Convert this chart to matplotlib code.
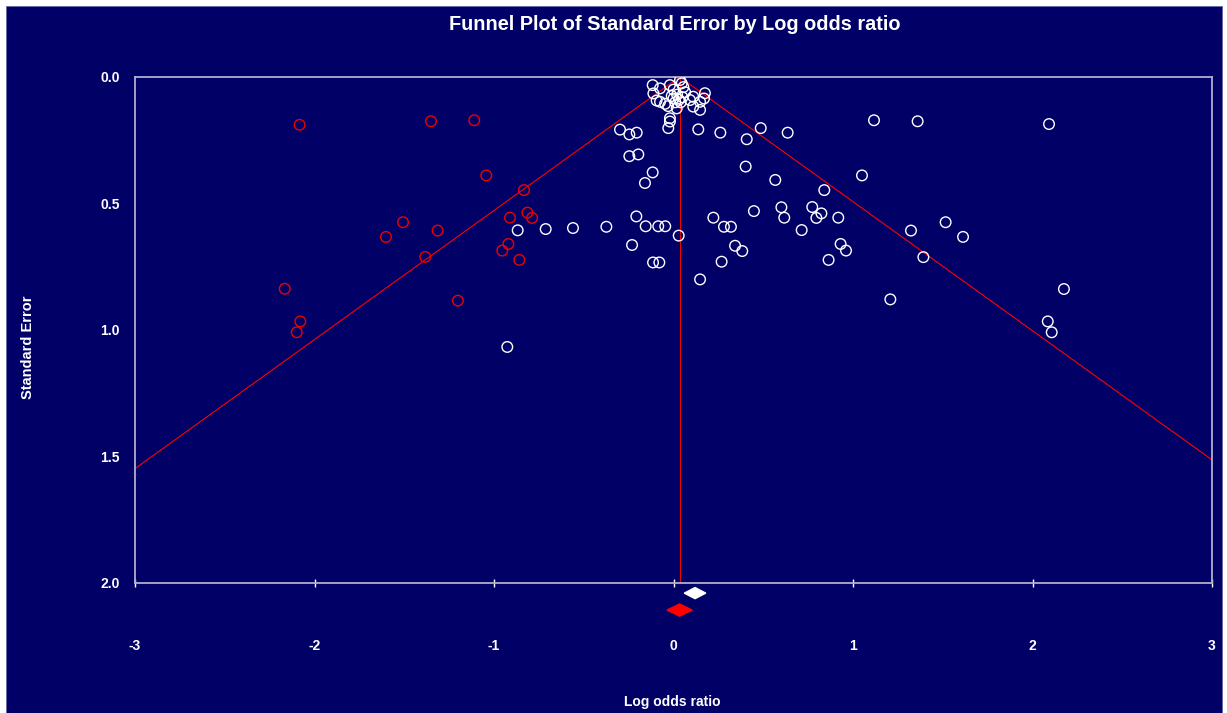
import matplotlib
matplotlib.use("Agg")
from matplotlib import pyplot as plt
from matplotlib.patches import Polygon, Rectangle
import numpy as np

plt.rcParams['font.family'] = ['Liberation Sans', 'DejaVu Sans']

# observed studies (log odds ratio, standard error)
obs_lor = [
    -0.116, -0.075, -0.112, -0.094, -0.075, -0.047, -0.02, 0.0, 0.046, 0.036,
    0.055, 0.02, 0.0, 0.03, 0.05, 0.01, 0.04, -0.01, 0.018, 0.092,
    0.11, 0.11, 0.148, 0.148, 0.175, 0.17, -0.03, 0.065,
    -0.02, -0.02, -0.029, -0.298, -0.246, -0.205, -0.246, -0.196, -0.116, -0.159,
    0.138, 0.261, 0.408, 0.486, 0.636, 1.117, 1.36, 0.402, 0.567, 0.84,
    1.05, 0.448, 0.601, 0.617, 0.773, 0.824, 0.796, 0.918, 0.714, 0.931,
    0.961, 0.864, 1.323, 1.516, 1.613, 1.392, 1.208, -0.374, -0.207, -0.155,
    -0.085, -0.046, 0.029, -0.231, -0.114, -0.079, 0.148, 0.222, 0.281, 0.32,
    0.343, 0.383, 0.268, -0.868, -0.712, -0.56, -0.926, 2.092, 2.175, 2.085,
    2.107,
]
obs_se = [
    0.032, 0.045, 0.065, 0.093, 0.098, 0.106, 0.032, 0.05, 0.025, 0.012,
    0.04, 0.07, 0.085, 0.09, 0.08, 0.1, 0.1, 0.075, 0.124, 0.091,
    0.078, 0.117, 0.098, 0.13, 0.064, 0.085, 0.115, 0.06,
    0.163, 0.176, 0.202, 0.208, 0.227, 0.22, 0.313, 0.306, 0.377, 0.419,
    0.207, 0.22, 0.246, 0.202, 0.22, 0.171, 0.175, 0.354, 0.407, 0.447,
    0.389, 0.53, 0.515, 0.556, 0.514, 0.539, 0.557, 0.556, 0.605, 0.66,
    0.686, 0.723, 0.607, 0.574, 0.632, 0.712, 0.879, 0.592, 0.551, 0.59,
    0.59, 0.59, 0.627, 0.664, 0.733, 0.733, 0.8, 0.556, 0.592, 0.592,
    0.667, 0.688, 0.73, 0.606, 0.601, 0.597, 1.067, 0.186, 0.838, 0.966,
    1.009,
]

# imputed studies (trim and fill)
imp_lor = [
    -2.083, -1.351, -1.11, -1.043, -0.833, -0.814, -0.788, -0.911, -1.507, -1.602,
    -1.314, -1.383, -0.92, -0.954, -0.859, -2.166, -1.201, -2.079, -2.099,
]
imp_se = [
    0.189, 0.175, 0.171, 0.389, 0.447, 0.536, 0.557, 0.556, 0.574, 0.632,
    0.607, 0.711, 0.66, 0.686, 0.723, 0.837, 0.884, 0.966, 1.009,
]

# pooled estimates (point, lower, upper)
obs_pool = [0.12, 0.06, 0.18]
adj_pool = [0.034, -0.036, 0.104]

xticks = [-3, -2, -1, 0, 1, 2, 3]
yticks = [0.0, 0.5, 1.0, 1.5, 2.0]

navy = '#000066'
spine_col = '#b0b0cc'

fig = plt.figure(figsize=(12.27, 7.13), dpi=100, facecolor='white')
fig.patches.append(Rectangle((6 / 1227, 0), 1216 / 1227, 707 / 713,
                             transform=fig.transFigure, facecolor=navy,
                             edgecolor='#6666aa', lw=0.6, zorder=-10))

ax = fig.add_axes([135 / 1227, 1 - 583 / 713, 1077 / 1227, 506 / 713])
ax.set_facecolor(navy)
ax.set_xlim(-3, 3)
ax.set_ylim(2.0, 0.0)

# funnel lines
se_line = np.linspace(0, 2, 50)
c = adj_pool[0]
ax.plot(c - 1.96 * se_line, se_line, color='#ff0000', lw=0.8, zorder=2)
ax.plot(c + 1.96 * se_line, se_line, color='#ff0000', lw=0.8, zorder=2)
ax.plot([c, c], [0, 2], color='#ff0000', lw=0.7, zorder=2)

ax.scatter(obs_lor, obs_se, s=58, facecolors='none', edgecolors='white',
           linewidths=1.0, zorder=3)
ax.scatter(imp_lor, imp_se, s=58, facecolors='none', edgecolors='#ee0000',
           linewidths=1.0, zorder=3)

# pooled diamonds below the axis
for pool, yc, hh, col in [(obs_pool, 2.04, 0.022, 'white'),
                          (adj_pool, 2.107, 0.024, '#ff0000')]:
    est, lo, hi = pool
    d = Polygon([[lo, yc], [est, yc - hh], [hi, yc], [est, yc + hh]],
                closed=True, facecolor=col, edgecolor=col, clip_on=False, zorder=4)
    ax.add_patch(d)

for s in ax.spines.values():
    s.set_color(spine_col)
    s.set_linewidth(1.3)

ax.set_xticks(xticks)
ax.set_xticklabels([str(t) for t in xticks])
ax.set_yticks(yticks)
ax.set_yticklabels(['%.1f' % t for t in yticks])
ax.tick_params(axis='x', direction='inout', length=6, width=1, color='white',
               colors='white', pad=37, labelsize=10)
ax.tick_params(axis='y', length=0, colors='white', pad=11, labelsize=10)
for lab in ax.get_xticklabels() + ax.get_yticklabels():
    lab.set_fontweight('bold')

fig.text(675 / 1227, 1 - 25 / 713, 'Funnel Plot of Standard Error by Log odds ratio',
         color='white', fontsize=14.3, fontweight='bold', ha='center', va='center')
fig.text(672 / 1227, 1 - 702 / 713, 'Log odds ratio', color='white', fontsize=10,
         fontweight='bold', ha='center', va='center')
fig.text(28 / 1227, 1 - 347 / 713, 'Standard Error', color='white', fontsize=10.5,
         fontweight='bold', ha='center', va='center', rotation=90)

plt.savefig('out.png', dpi=100, facecolor=fig.get_facecolor())
